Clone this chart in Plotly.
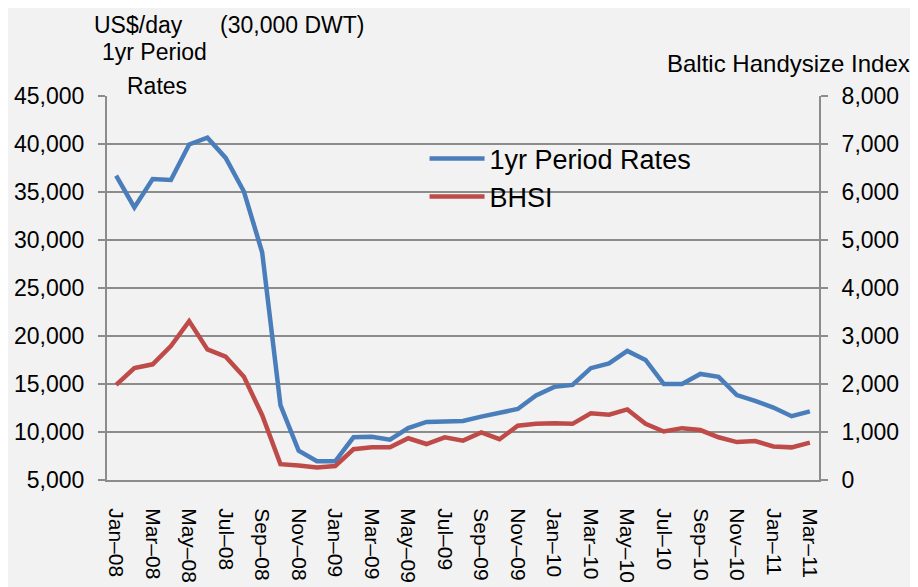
import plotly.graph_objects as go

months = [f"{m}–{y:02d}" for y in (8, 9, 10, 11)
          for m in ["Jan", "Feb", "Mar", "Apr", "May", "Jun", "Jul", "Aug", "Sep", "Oct", "Nov", "Dec"]][:39]

period_rates = [36700, 33400, 36350, 36250, 39950, 40650, 38550, 35050, 28700, 12800,
                8050, 6950, 6950, 9450, 9500, 9200, 10400, 11050, 11100, 11150,
                11600, 12000, 12400, 13800, 14700, 14900, 16650, 17150, 18450, 17500,
                15000, 15000, 16050, 15750, 13850, 13250, 12550, 11650, 12150]

bhsi = [1980, 2330, 2410, 2790, 3310, 2720, 2570, 2150, 1350, 330,
        300, 260, 290, 640, 680, 680, 870, 750, 890, 820,
        990, 850, 1130, 1170, 1180, 1170, 1390, 1360, 1470, 1170,
        1010, 1080, 1040, 890, 790, 810, 700, 680, 780]

tick_labels = months[::2]

FONT = "Liberation Sans"
GRID = "#8c8c8c"

fig = go.Figure()
fig.add_trace(go.Scatter(x=months, y=period_rates, name="1yr Period Rates", mode="lines",
                         legendgroup="a",
                         line=dict(color="#4a7ebb", width=4.5)))
fig.add_trace(go.Scatter(x=months, y=bhsi, name="BHSI", mode="lines", yaxis="y2",
                         legendgroup="b",
                         line=dict(color="#be4b48", width=4.5)))

fig.update_layout(
    width=910, height=579,
    margin=dict(l=99, r=99, t=88, b=107, autoexpand=False),
    paper_bgcolor="#f2f2f2", plot_bgcolor="#f2f2f2",
    showlegend=True,
    legend=dict(x=0.446, y=0.90, xanchor="left", yanchor="top",
                bgcolor="rgba(0,0,0,0)", font=dict(family=FONT, size=27, color="#000"),
                itemwidth=55, traceorder="grouped", tracegroupgap=0),
    xaxis=dict(type="category", tickmode="array", tickvals=tick_labels, ticktext=tick_labels,
               tickangle=90, tickfont=dict(family=FONT, size=21, color="#000"),
               ticklabelstandoff=22, automargin=False,
               showgrid=False, showline=True, linecolor=GRID, linewidth=2,
               ticks="", range=[-0.5, 38.5]),
    yaxis=dict(range=[5000, 45000], dtick=5000, tickformat=",",
               tickfont=dict(family=FONT, size=23, color="#000"),
               ticklabelstandoff=9, automargin=False,
               showgrid=True, gridcolor=GRID, gridwidth=2,
               showline=True, linecolor=GRID, linewidth=2,
               ticks="outside", ticklen=7, tickcolor=GRID, tickwidth=2,
               zeroline=False),
    yaxis2=dict(range=[0, 8000], dtick=1000, tickformat=",", overlaying="y", side="right",
                tickfont=dict(family=FONT, size=23, color="#000"),
                ticklabelstandoff=9, automargin=False,
                showgrid=False, showline=True, linecolor=GRID, linewidth=2,
                ticks="outside", ticklen=7, tickcolor=GRID, tickwidth=2,
                zeroline=False),
)

ann_font = dict(family=FONT, size=23, color="#000")
fig.add_annotation(text="US$/day", xref="paper", yref="paper", x=-0.021, y=1.185,
                   xanchor="left", yanchor="middle", showarrow=False, font=ann_font)
fig.add_annotation(text="(30,000 DWT)", xref="paper", yref="paper", x=0.156, y=1.185,
                   xanchor="left", yanchor="middle", showarrow=False, font=ann_font)
fig.add_annotation(text="1yr Period", xref="paper", yref="paper", x=-0.0098, y=1.1146,
                   xanchor="left", yanchor="middle", showarrow=False, font=ann_font)
fig.add_annotation(text="Rates", xref="paper", yref="paper", x=0.0253, y=1.026,
                   xanchor="left", yanchor="middle", showarrow=False, font=ann_font)
fig.add_annotation(text="Baltic Handysize Index", xref="paper", yref="paper", x=1.131, y=1.0846,
                   xanchor="right", yanchor="middle", showarrow=False,
                   font=dict(family=FONT, size=24, color="#000"))

fig.write_html("out.html")
